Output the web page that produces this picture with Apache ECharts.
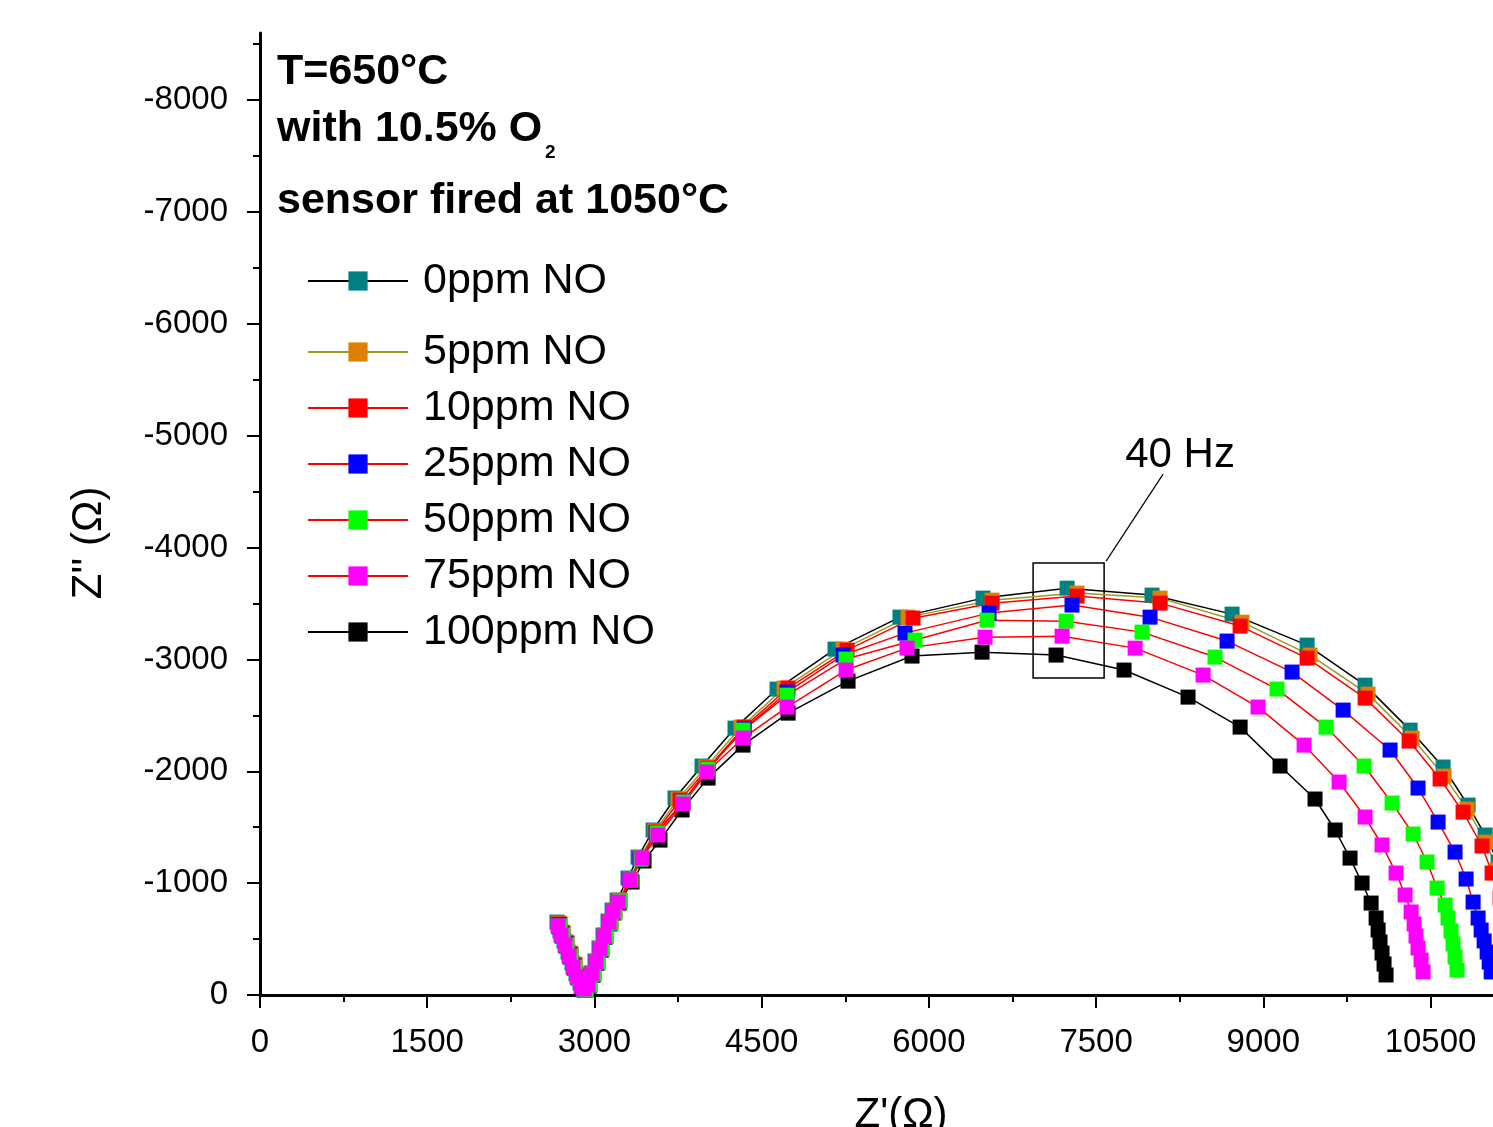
<!DOCTYPE html>
<html>
<head>
<meta charset="utf-8">
<script src="https://cdn.jsdelivr.net/npm/echarts@6/dist/echarts.min.js"></script>
<style>
  html, body { margin: 0; padding: 0; background: #fff; }
  #chart { width: 1493px; height: 1127px; }
</style>
</head>
<body>
<div id="chart"></div>
<script>
// ---- Data (Z' in ohm, Z'' in ohm) ----
const seriesNames = ['0ppm NO', '5ppm NO', '10ppm NO', '25ppm NO', '50ppm NO', '75ppm NO', '100ppm NO'];

const no0 = [[2664,-652],[2691,-572],[2727,-483],[2763,-384],[2799,-286],[2835,-188],[2871,-107],[2898,-45],[2934,-98],[2969,-197],[3005,-304],[3041,-420],[3077,-536],[3122,-661],[3158,-759],[3203,-849],[3301,-1046],[3391,-1233],[3526,-1475],[3723,-1761],[3965,-2047],[4261,-2386],[4638,-2735],[5158,-3092],[5741,-3378],[6486,-3548],[7240,-3637],[8002,-3575],[8720,-3405],[9393,-3128],[9913,-2770],[10317,-2368],[10613,-2038],[10837,-1698],[10990,-1430],[11106,-1189],[11196,-956]];

const no5 = [[2682,-643],[2709,-563],[2745,-474],[2781,-375],[2817,-277],[2853,-179],[2889,-98],[2916,-45],[2951,-89],[2987,-197],[3023,-304],[3059,-420],[3095,-536],[3140,-661],[3176,-760],[3221,-849],[3319,-1037],[3409,-1224],[3544,-1466],[3750,-1752],[4001,-2038],[4315,-2395],[4701,-2744],[5230,-3092],[5813,-3378],[6567,-3530],[7329,-3593],[8074,-3548],[8809,-3333],[9420,-3039],[9940,-2690],[10335,-2297],[10622,-1957],[10828,-1662],[10998,-1367],[11097,-1117],[11178,-894]];

const no10 = [[2691,-635],[2718,-554],[2754,-465],[2790,-366],[2826,-268],[2862,-170],[2898,-89],[2925,-45],[2960,-89],[2996,-188],[3032,-295],[3068,-411],[3104,-527],[3149,-652],[3185,-751],[3230,-840],[3328,-1028],[3418,-1215],[3553,-1457],[3768,-1743],[4019,-2029],[4342,-2395],[4737,-2744],[5266,-3083],[5858,-3369],[6567,-3503],[7329,-3566],[8074,-3503],[8792,-3298],[9393,-3012],[9913,-2654],[10308,-2270],[10586,-1931],[10792,-1635],[10962,-1332],[11052,-1090],[11124,-867]];

const no25 = [[2682,-626],[2709,-545],[2745,-456],[2781,-357],[2817,-259],[2853,-161],[2889,-80],[2916,-45],[2951,-80],[2987,-179],[3023,-286],[3059,-402],[3095,-518],[3140,-643],[3176,-742],[3221,-831],[3319,-1028],[3409,-1215],[3553,-1448],[3795,-1725],[4019,-2020],[4342,-2377],[4728,-2708],[5230,-3039],[5786,-3235],[6540,-3414],[7284,-3486],[7984,-3378],[8675,-3164],[9258,-2887],[9716,-2547],[10137,-2190],[10388,-1850],[10568,-1546],[10720,-1278],[10819,-1037],[10882,-831],[10927,-688],[10954,-581],[10981,-483],[11008,-384],[11026,-295],[11044,-206]];

const no50 = [[2691,-617],[2718,-536],[2754,-447],[2790,-349],[2826,-250],[2862,-152],[2898,-80],[2925,-45],[2960,-89],[2996,-188],[3032,-295],[3068,-411],[3104,-527],[3149,-643],[3185,-742],[3230,-840],[3328,-1028],[3418,-1215],[3562,-1448],[3795,-1725],[4019,-2020],[4333,-2368],[4728,-2681],[5257,-3003],[5876,-3173],[6522,-3351],[7231,-3342],[7912,-3244],[8567,-3021],[9123,-2735],[9563,-2395],[9904,-2047],[10155,-1716],[10344,-1439],[10469,-1189],[10559,-956],[10631,-804],[10657,-688],[10684,-572],[10702,-456],[10720,-340],[10738,-223]];

const no75 = [[2673,-617],[2700,-536],[2736,-447],[2772,-349],[2808,-250],[2844,-161],[2880,-80],[2907,-54],[2942,-89],[2978,-188],[3014,-295],[3050,-411],[3086,-527],[3131,-652],[3167,-742],[3212,-831],[3319,-1028],[3427,-1224],[3570,-1430],[3795,-1707],[4010,-1993],[4333,-2297],[4728,-2574],[5257,-2905],[5804,-3101],[6504,-3199],[7195,-3208],[7850,-3101],[8460,-2860],[8953,-2574],[9366,-2234],[9680,-1904],[9913,-1591],[10065,-1341],[10191,-1090],[10272,-894],[10326,-742],[10353,-635],[10370,-527],[10388,-420],[10415,-313],[10433,-206]];

const no100 = [[2682,-608],[2709,-527],[2745,-438],[2781,-340],[2817,-241],[2853,-152],[2889,-71],[2916,-45],[2951,-80],[2987,-179],[3023,-286],[3059,-402],[3095,-518],[3140,-635],[3176,-733],[3221,-822],[3337,-1010],[3445,-1198],[3588,-1385],[3786,-1654],[4019,-1939],[4333,-2234],[4737,-2520],[5275,-2806],[5849,-3030],[6477,-3065],[7141,-3039],[7751,-2905],[8325,-2663],[8792,-2395],[9150,-2047],[9464,-1752],[9644,-1475],[9778,-1224],[9886,-1001],[9967,-822],[10012,-688],[10030,-581],[10047,-474],[10065,-375],[10083,-277],[10101,-179]];

// Axis tick labels
const xTicks = [0, 1500, 3000, 4500, 6000, 7500, 9000, 10500];
const yTicks = [0, -1000, -2000, -3000, -4000, -5000, -6000, -7000, -8000];

// 40 Hz annotation (data coordinates)
const boxCorners = [[6935, -3861], [7572, -2833]];
const pointerLine = [[7590, -3879], [8101, -4656]];
const hzLabelPos = [8253, -4826];

// ---- Styling ----
const markerColors = ['#008080', '#e08000', '#ff0000', '#0000ff', '#00ff00', '#ff00ff', '#000000'];
const lineColors   = ['#000000', '#9a9a20', '#ff0000', '#ff0000', '#ff0000', '#ff0000', '#000000'];
const allData = [no0, no5, no10, no25, no50, no75, no100];

const sansFont = '"Liberation Sans", Arial, sans-serif';

const series = allData.map((d, i) => ({
  name: seriesNames[i],
  type: 'line',
  data: d,
  symbol: 'rect',
  symbolSize: 15,
  z: i === 6 ? 2 : 3,
  itemStyle: { color: markerColors[i] },
  lineStyle: { color: lineColors[i], width: 1.5 },
  emphasis: { disabled: true },
  animation: false
}));

series[0].markArea = {
  silent: true,
  itemStyle: { color: 'rgba(0,0,0,0)', borderColor: '#000', borderWidth: 1.5 },
  label: { show: false },
  data: [[{ coord: boxCorners[0] }, { coord: boxCorners[1] }]]
};
series[0].markLine = {
  silent: true,
  symbol: ['none', 'none'],
  lineStyle: { color: '#000', width: 1.2, type: 'solid' },
  label: { show: false },
  data: [[{ coord: pointerLine[0] }, { coord: pointerLine[1] }]]
};
series[0].markPoint = {
  silent: true,
  symbol: 'circle',
  symbolSize: 1,
  itemStyle: { color: 'rgba(0,0,0,0)' },
  label: { show: true, position: 'inside', formatter: '40 Hz', color: '#000', fontSize: 42, fontFamily: sansFont },
  data: [{ coord: hzLabelPos }]
};

const legendCommon = {
  orient: 'vertical',
  left: 307,
  padding: 0,
  itemWidth: 100,
  itemHeight: 24,
  itemGap: 12,
  selectedMode: false,
  textStyle: { fontSize: 43, fontFamily: sansFont, color: '#000', lineHeight: 44, padding: [0, 0, 0, 10] }
};

const titleFont = 'bold 43px "Liberation Sans", Arial, sans-serif';

const option = {
  backgroundColor: '#fff',
  animation: false,
  grid: { left: 260, top: 33, right: -49, bottom: 132, containLabel: false, outerBoundsMode: 'none' },
  legend: [
    Object.assign({}, legendCommon, { top: 259, data: [seriesNames[0]] }),
    Object.assign({}, legendCommon, { top: 330, data: seriesNames.slice(1) })
  ],
  xAxis: {
    type: 'value',
    min: 0,
    max: 11500,
    interval: 1500,
    name: "Z'(Ω)",
    nameLocation: 'middle',
    nameGap: 99,
    nameTextStyle: { fontSize: 42, fontFamily: sansFont, color: '#000' },
    axisLine: { show: true, onZero: false, lineStyle: { color: '#000', width: 3 } },
    axisTick: { show: true, length: 13, lineStyle: { color: '#000', width: 2 }, customValues: xTicks },
    minorTick: { show: true, splitNumber: 2, length: 7, lineStyle: { color: '#000', width: 2 } },
    axisLabel: { fontSize: 33, fontFamily: sansFont, color: '#000', margin: 31, customValues: xTicks, formatter: v => String(v) },
    splitLine: { show: false }
  },
  yAxis: {
    type: 'value',
    min: -8600,
    max: 0,
    splitNumber: 9,
    inverse: true,
    name: "Z'' (Ω)",
    nameLocation: 'middle',
    nameGap: 150,
    nameTextStyle: { fontSize: 42, fontFamily: sansFont, color: '#000', padding: [0, 58, 0, 0] },
    axisLine: { show: true, onZero: false, lineStyle: { color: '#000', width: 3 } },
    axisTick: { show: true, length: 13, lineStyle: { color: '#000', width: 2 }, customValues: yTicks },
    minorTick: { show: true, splitNumber: 2, length: 7, lineStyle: { color: '#000', width: 2 } },
    axisLabel: { fontSize: 33, fontFamily: sansFont, color: '#000', margin: 32, customValues: yTicks, formatter: v => String(v) },
    splitLine: { show: false }
  },
  graphic: [
    { type: 'text', x: 277, y: 72, style: { text: 'T=650°C', font: titleFont, fill: '#000', align: 'left', verticalAlign: 'middle' } },
    { type: 'text', x: 277, y: 129, style: { text: 'with 10.5% O', font: titleFont, fill: '#000', align: 'left', verticalAlign: 'middle' } },
    { type: 'text', x: 545, y: 153, style: { text: '2', font: 'bold 19px "Liberation Sans", Arial, sans-serif', fill: '#000', align: 'left', verticalAlign: 'middle' } },
    { type: 'text', x: 277, y: 201, style: { text: 'sensor fired at 1050°C', font: titleFont, fill: '#000', align: 'left', verticalAlign: 'middle' } }
  ],
  series: series
};

const chart = echarts.init(document.getElementById('chart'), null, { renderer: 'canvas' });
chart.setOption(option);
</script>
</body>
</html>
